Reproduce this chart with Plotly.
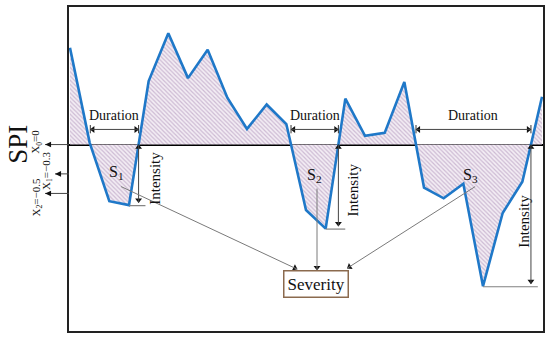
import math
import plotly.graph_objects as go

# ---------------- data ----------------
time_idx = list(range(25))
spi = [0.99, 0.02, -0.58, -0.62, 0.65, 1.14, 0.68, 0.97, 0.48, 0.16, 0.41, 0.21,
       -0.67, -0.86, 0.47, 0.09, 0.12, 0.64, -0.44, -0.55, -0.40, -1.45, -0.70,
       -0.38, 0.49]
thresholds = [0.0, -0.3, -0.5]
threshold_labels = ["X<sub>0</sub>=0", "X<sub>1</sub>=\u22120.3", "X<sub>2</sub>=\u22120.5"]
event_labels = ["S<sub>1</sub>", "S<sub>2</sub>", "S<sub>3</sub>"]
severity_label = "Severity"
y_label = "SPI"

# ---------------- derived drought events (runs below zero) ----------------
def crossing(i):
    a, b = spi[i], spi[i + 1]
    return i + a / (a - b)

events = []
i = 0
while i < len(spi):
    if spi[i] < 0:
        j = i
        while j + 1 < len(spi) and spi[j + 1] < 0:
            j += 1
        run = list(range(i, j + 1))
        kmin = min(run, key=lambda k: spi[k])
        events.append(dict(start=crossing(i - 1), end=crossing(j), kmin=kmin, vmin=spi[kmin]))
        i = j + 1
    else:
        i += 1

FONT = "Liberation Serif, Times New Roman, serif"
DARK = "#333333"
GREY = "#808080"

XR = [-0.05, 24.05]
YR = [-1.908, 1.408]
PLOT_W, PLOT_H = 476, 325
SX = PLOT_W / (XR[1] - XR[0])   # px per x unit
SY = PLOT_H / (YR[1] - YR[0])   # px per y unit

fig = go.Figure()
fig.add_trace(go.Scatter(
    x=time_idx, y=spi, mode="lines",
    line=dict(color="#1f78c8", width=2.6),
    fill="tozeroy",
    fillcolor="rgba(0,0,0,0)",
    fillpattern=dict(shape="\\", fgcolor="#a888b2", bgcolor="#f3edf4", size=3, solidity=0.4),
    hoverinfo="skip",
))

ann = []
shapes = []
heads_x, heads_y, heads_ang, heads_col = [], [], [], []

def add_head(x, y, fromx, fromy, color):
    dxp = (x - fromx) * SX
    dyp = -(y - fromy) * SY          # screen down positive
    L = math.hypot(dxp, dyp) or 1.0
    ang = math.degrees(math.atan2(dxp, -dyp))
    back = 2.6                       # shift marker centre so the tip sits on the end point
    heads_x.append(x - dxp / L * back / SX)
    heads_y.append(y + dyp / L * back / SY)
    heads_ang.append(ang)
    heads_col.append(color)

def seg(x0, y0, x1, y1, color=GREY, width=1.0, xref="x"):
    shapes.append(dict(type="line", xref=xref, yref="y", x0=x0, y0=y0, x1=x1, y1=y1,
                       line=dict(color=color, width=width)))

def arrow(x0, y0, x1, y1, both=False, color=DARK, width=1.0, headcol="#111"):
    seg(x0, y0, x1, y1, color=color, width=width)
    add_head(x1, y1, x0, y0, headcol)
    if both:
        add_head(x0, y0, x1, y1, headcol)

def text(x, y, t, size, angle=0, xref="x"):
    ann.append(dict(x=x, y=y, xref=xref, yref="y", text=t, textangle=angle,
                    xanchor="center", yanchor="middle", showarrow=False,
                    font=dict(family=FONT, size=size, color="#111")))

dur_y = 0.155
dur_text_y = 0.30
s_label_pos = [(2.38, -0.29), (12.42, -0.32), (20.35, -0.32)]
int_text_pos = [(4.32, -0.34), (14.34, -0.47), (23.08, -0.78)]
sev_x, sev_y = 12.5, -1.43
sev_heads = [(11.55, -1.275), (12.56, -1.285), (14.1, -1.265)]
sev_tails = [(2.6, -0.43), (12.56, -0.45), (20.6, -0.43)]

for n, ev in enumerate(events):
    s, e = ev["start"], ev["end"]
    # duration arrow with end bars
    arrow(s, dur_y, e, dur_y, both=True, color="#444")
    seg(s, dur_y - 0.04, s, dur_y + 0.045, color=DARK)
    seg(e, dur_y - 0.04, e, dur_y + 0.045, color=DARK)
    text((s + e) / 2, dur_text_y, "Duration", 14)
    # intensity arrow
    arrow(e, 0.0, e, ev["vmin"] + 0.025, both=True, color="#444")
    seg(ev["kmin"], ev["vmin"] - 0.005, e + 0.35, ev["vmin"] - 0.005, color=GREY, width=1.2)
    tx, ty = int_text_pos[n]
    text(tx, ty, "Intensity", 15, angle=-90)
    # S label
    lx, ly = s_label_pos[n]
    text(lx, ly, event_labels[n], 16)
    # severity arrow
    hx, hy = sev_heads[n]
    tx2, ty2 = sev_tails[n]
    arrow(tx2, ty2, hx, hy, color="#7a7a7a", width=1.0)

# Severity box
ann.append(dict(x=sev_x, y=sev_y, xref="x", yref="y", text=severity_label, showarrow=False,
                xanchor="center", yanchor="middle",
                font=dict(family=FONT, size=17, color="#111"), bordercolor="#8b6a4e",
                borderwidth=1.5, borderpad=3, bgcolor="white"))

# threshold arrows on the left (outside the plot area, drawn in paper x)
head_px = [45, 55, 45]
label_px = [(36, 0.03), (47, -0.27), (37, -0.54)]
for t, lab, hp, (lxp, lyv) in zip(thresholds, threshold_labels, head_px, label_px):
    xh = (hp - 69) / PLOT_W
    shapes.append(dict(type="line", xref="paper", yref="y", x0=xh, x1=0,
                       y0=t, y1=t, line=dict(color="#444", width=1)))
    dx = 6 / PLOT_W
    dy = 2.8 / SY
    shapes.append(dict(type="path", xref="paper", yref="y",
                       path=f"M {xh},{t} L {xh + dx},{t + dy} L {xh + dx},{t - dy} Z",
                       fillcolor="#111", line=dict(width=0)))
    text((lxp - 69) / PLOT_W, lyv, lab, 11, angle=-90, xref="paper")

text((17 - 69) / PLOT_W, 0.0, y_label, 27, angle=-90, xref="paper")

fig.add_trace(go.Scatter(
    x=heads_x, y=heads_y, mode="markers", cliponaxis=False, hoverinfo="skip",
    marker=dict(symbol="triangle-up", size=6, angle=heads_ang, color=heads_col,
                line=dict(width=0)),
))

fig.update_layout(
    width=550, height=337,
    margin=dict(l=69, r=5, t=6, b=6),
    paper_bgcolor="white", plot_bgcolor="white",
    showlegend=False,
    annotations=ann, shapes=shapes,
    xaxis=dict(range=XR, showgrid=False, zeroline=False, showticklabels=False,
               ticks="", showline=True, mirror=True, linecolor="#222", linewidth=1.5),
    yaxis=dict(range=YR, showgrid=False, zeroline=True, zerolinecolor="#000",
               zerolinewidth=2, showticklabels=False, ticks="", showline=True, mirror=True,
               linecolor="#222", linewidth=1.5),
)

fig.write_html("out.html", config={"displayModeBar": False},
               post_script="document.body.style.margin='0px';")
